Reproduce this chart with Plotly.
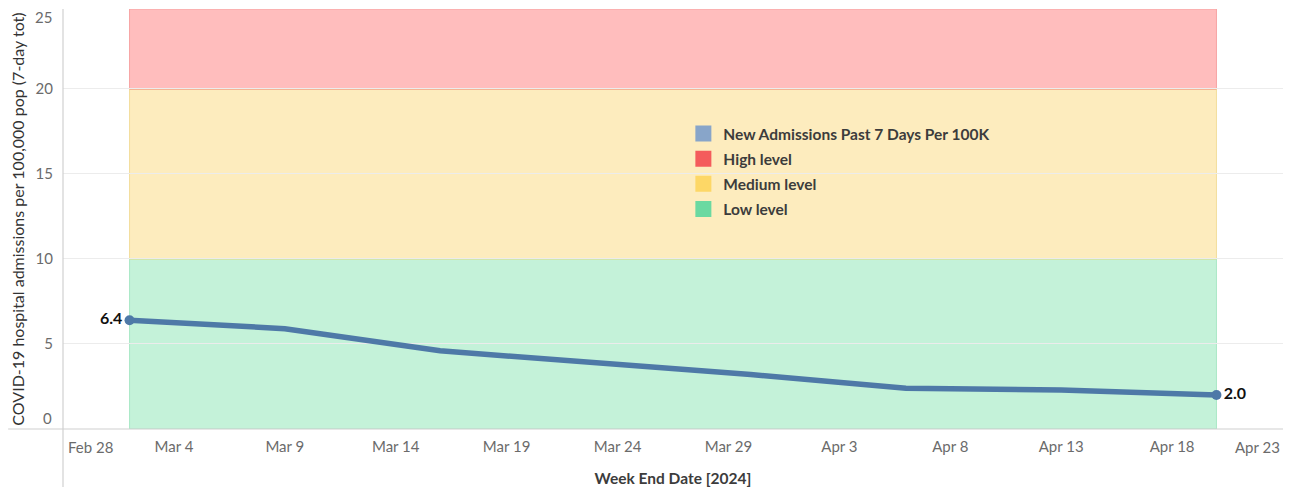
import plotly.graph_objects as go

# ---- data ----
week_end = ["2024-03-02", "2024-03-09", "2024-03-16", "2024-03-23",
            "2024-03-30", "2024-04-06", "2024-04-13", "2024-04-20"]
admissions = [6.4, 5.9, 4.6, 3.9, 3.2, 2.4, 2.3, 2.0]

level_names = ["High level", "Medium level", "Low level"]
level_lower = [20, 10, 0]
level_upper = [24.7, 20, 10]

x_range = ["2024-02-28", "2024-04-23"]
y_range = [0, 24.7]
x_tickvals = ["2024-03-04", "2024-03-09", "2024-03-14", "2024-03-19", "2024-03-24",
              "2024-03-29", "2024-04-03", "2024-04-08", "2024-04-13", "2024-04-18"]
x_ticktext = ["Mar 4", "Mar 9", "Mar 14", "Mar 19", "Mar 24",
              "Mar 29", "Apr 3", "Apr 8", "Apr 13", "Apr 18"]
y_tickvals = [5, 10, 15, 20]

series_name = "New Admissions Past 7 Days Per 100K"
y_title = "COVID-19 hospital admissions per 100,000 pop (7-day tot)"
x_title = "Week End Date [2024]"

# ---- styles ----
FONT = "Lato"
band_fill = {"High level": "#ffbdbd", "Medium level": "#fdecbe", "Low level": "#c4f2d9"}
band_edge = {"High level": "#f7a3a3", "Medium level": "#f3dd9c", "Low level": "#a9e8c6"}
band_top_line = {"High level": None, "Medium level": "#f2a48a", "Low level": "#d9e3a0"}
legend_col = {series_name: "#88a5c9", "High level": "#f45c5c",
              "Medium level": "#fdd766", "Low level": "#6bd9a1"}
line_col = "#4e79a7"
TICK_COL = "#6b6b6b"

fig = go.Figure()

# bands (shapes on data scales)
shapes = []
for name, lo, hi in zip(level_names, level_lower, level_upper):
    shapes.append(dict(type="rect", xref="x", yref="y", layer="below",
                       x0=week_end[0], x1=week_end[-1], y0=lo, y1=hi,
                       fillcolor=band_fill[name],
                       line=dict(color=band_edge[name], width=1)))
for name, lo, hi in zip(level_names, level_lower, level_upper):
    c = band_top_line[name]
    if c:
        shapes.append(dict(type="line", xref="x", yref="y", layer="below",
                           x0=week_end[0], x1=week_end[-1], y0=hi, y1=hi,
                           line=dict(color=c, width=1.5)))
# axis frame lines (Tableau-like dividers)
shapes.append(dict(type="line", xref="paper", yref="paper", x0=-0.045, x1=1.0,
                   y0=0, y1=0, line=dict(color="#d0d0d0", width=1.2)))
shapes.append(dict(type="line", xref="paper", yref="paper", x0=0, x1=0,
                   y0=-0.138, y1=1.0, line=dict(color="#d0d0d0", width=1.2)))

# main line
fig.add_trace(go.Scatter(x=week_end, y=admissions, mode="lines",
                         line=dict(color=line_col, width=5.5, shape="linear"),
                         showlegend=False, hoverinfo="skip"))
# end markers with labels
fig.add_trace(go.Scatter(x=[week_end[0], week_end[-1]],
                         y=[admissions[0], admissions[-1]],
                         mode="markers+text",
                         marker=dict(color=line_col, size=10),
                         text=[f"{admissions[0]:.1f}", f"{admissions[-1]:.1f}"],
                         textposition=["middle left", "middle right"],
                         textfont=dict(family=FONT, size=16, color="#111111", weight="bold"),
                         showlegend=False, hoverinfo="skip", cliponaxis=False))

# legend entries
for i, name in enumerate([series_name] + level_names):
    fig.add_trace(go.Scatter(x=[None], y=[None], mode="markers", name=name,
                             legendgroup=f"g{i}",
                             marker=dict(symbol="square", size=16, color=legend_col[name])))

annotations = [
    dict(text="0", xref="paper", yref="y", x=0, y=0, xanchor="right", yanchor="bottom",
         xshift=-9, yshift=0, showarrow=False,
         font=dict(family=FONT, size=15, color=TICK_COL)),
    dict(text="25", xref="paper", yref="paper", x=0, y=1, xanchor="right", yanchor="top",
         xshift=-9, yshift=3, showarrow=False,
         font=dict(family=FONT, size=15, color=TICK_COL)),
    dict(text="Feb 28", xref="x", yref="paper", x=x_range[0], y=0, xanchor="left", yanchor="top",
         xshift=3, yshift=-7, showarrow=False,
         font=dict(family=FONT, size=15, color=TICK_COL)),
    dict(text="Apr 23", xref="x", yref="paper", x=x_range[1], y=0, xanchor="right", yanchor="top",
         xshift=-1, yshift=-7, showarrow=False,
         font=dict(family=FONT, size=15, color=TICK_COL)),
]

# page body has an 8px margin, so the figure is 1287x479 placed at (8, 8)
fig.update_layout(
    width=1287, height=479,
    margin=dict(l=55, r=12, t=1, b=58, autoexpand=False),
    paper_bgcolor="white", plot_bgcolor="white",
    font=dict(family=FONT, size=15, color=TICK_COL),
    shapes=shapes, annotations=annotations,
    showlegend=True,
    legend=dict(x=0.5085, y=0.743, xanchor="left", yanchor="top",
                bgcolor="rgba(0,0,0,0)", tracegroupgap=2,
                font=dict(family=FONT, size=15.5, color="#3c3c3c", weight="bold"),
                itemclick=False, itemdoubleclick=False),
    xaxis=dict(type="date", range=x_range, tickvals=x_tickvals, ticktext=x_ticktext,
               showgrid=False, zeroline=False, showline=False, ticks="",
               ticklabelstandoff=7, automargin=False,
               tickfont=dict(family=FONT, size=15, color=TICK_COL),
               title=dict(text=x_title, standoff=19,
                          font=dict(family=FONT, size=15.5, color="#3c3c3c", weight="bold"))),
    yaxis=dict(range=y_range, tickvals=y_tickvals, showgrid=True, gridcolor="#ececec",
               gridwidth=1, zeroline=False, showline=False, ticks="",
               ticklabelstandoff=9, automargin=False,
               tickfont=dict(family=FONT, size=15, color=TICK_COL),
               title=dict(text=y_title, standoff=8,
                          font=dict(family=FONT, size=16, color="#333333"))),
)

fig.write_html("out.html")
